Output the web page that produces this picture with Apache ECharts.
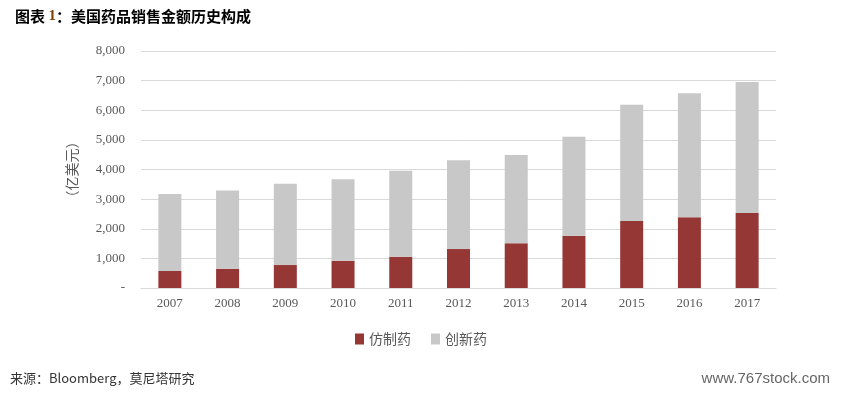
<!DOCTYPE html>
<html><head><meta charset="utf-8">
<script src="https://cdn.jsdelivr.net/npm/echarts@6/dist/echarts.min.js"></script>
<style>html,body{margin:0;padding:0;background:#fff}#c{width:842px;height:394px}</style>
</head><body><div id="c"></div>
<script>
var categories = ['2007','2008','2009','2010','2011','2012','2013','2014','2015','2016','2017'];
var generic = [575, 650, 775, 920, 1055, 1315, 1510, 1765, 2260, 2385, 2530];
var innovative = [2600, 2645, 2745, 2750, 2900, 2995, 2980, 3340, 3925, 4185, 4420];
var seriesNames = ['仿制药', '创新药'];
var yTicks = [0, 1000, 2000, 3000, 4000, 5000, 6000, 7000, 8000];

var chart = echarts.init(document.getElementById('c'));
var serif = '"Liberation Serif", "DejaVu Serif", serif';
var cjk = '"Noto Sans CJK SC", sans-serif';
chart.setOption({
  animation: false,
  title: {
    text: '图表 {n|1}：美国药品销售金额历史构成',
    left: 10, top: 4,
    textStyle: { fontSize: 15, fontWeight: 'bold', color: '#000', fontFamily: cjk,
      rich: { n: { fontSize: 15, fontWeight: 'bold', color: '#7f3f00', fontFamily: serif } } }
  },
  graphic: [
    { type: 'text', left: 10, top: 372, style: { text: '来源：Bloomberg，莫尼塔研究', fontSize: 13, fill: '#333', fontFamily: cjk } },
    { type: 'text', right: 12, top: 371, style: { text: 'www.767stock.com', fontSize: 15, fill: '#666', fontFamily: '"Liberation Sans Narrow", "Liberation Sans", sans-serif' } }
  ],
  legend: {
    data: seriesNames, bottom: 43, left: 'center',
    itemWidth: 9, itemHeight: 11, itemGap: 20, icon: 'rect',
    textStyle: { fontSize: 14, color: '#595959', fontFamily: cjk }
  },
  grid: { left: 141, right: 66, top: 51, bottom: 106, containLabel: false },
  xAxis: {
    type: 'category', data: categories,
    axisTick: { show: false },
    axisLine: { lineStyle: { color: '#d9d9d9', width: 1 } },
    axisLabel: { color: '#595959', fontSize: 13, fontFamily: serif, margin: 9 }
  },
  yAxis: {
    type: 'value', min: yTicks[0], max: yTicks[yTicks.length - 1], interval: 1000,
    name: '（亿美元）', nameLocation: 'middle', nameGap: 62, nameRotate: 90,
    nameTextStyle: { color: '#595959', fontSize: 14, fontFamily: cjk },
    axisLine: { show: false }, axisTick: { show: false },
    splitLine: { lineStyle: { color: '#d9d9d9', width: 1 } },
    axisLabel: { color: '#595959', fontSize: 13, fontFamily: serif, margin: 16,
      formatter: function (v) { return v === 0 ? '-' : v.toLocaleString('en-US'); } }
  },
  series: [
    { name: seriesNames[0], type: 'bar', stack: 't', data: generic, barWidth: 23,
      itemStyle: { color: '#953735' } },
    { name: seriesNames[1], type: 'bar', stack: 't', data: innovative, barWidth: 23,
      itemStyle: { color: '#c8c8c8' } }
  ]
});
</script></body></html>
